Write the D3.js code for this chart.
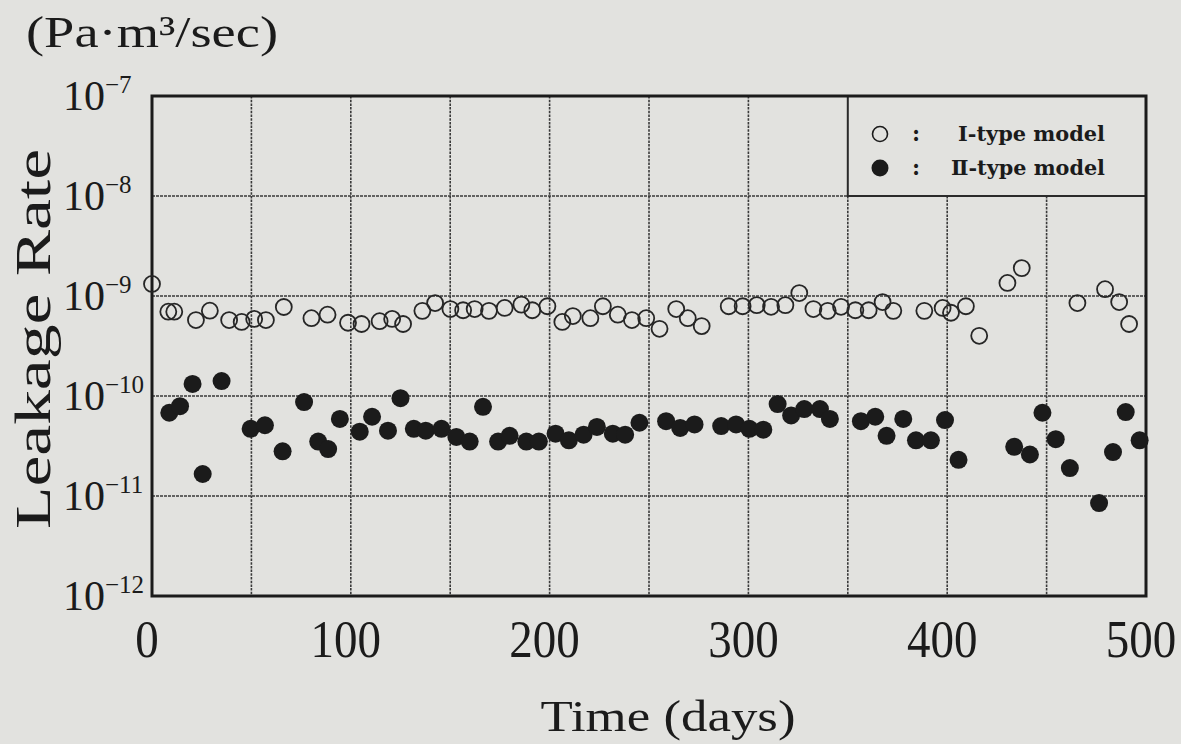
<!DOCTYPE html>
<html><head><meta charset="utf-8">
<script src="https://cdn.jsdelivr.net/npm/d3@7/dist/d3.min.js"></script>
<style>html,body{margin:0;padding:0;background:#e2e2df;}svg{display:block;}</style>
</head><body>
<script>
// ---- data ----
const typeIDays = [0,8.2,11.2,22.1,29.1,38.8,45.1,51.4,57.3,66.3,80.2,88.3,98.6,105.4,114.5,120.8,126.3,136,142.4,150.1,156.5,162.3,169.5,177.4,185.8,191.3,198.9,206.4,211.7,220.5,226.8,234.3,241.4,248.6,255.3,263.7,269.5,276.5,290.1,297.1,304.2,311.4,318.6,325.6,332.7,339.9,346.6,353.8,360.5,367.5,372.9,388.5,397.7,401.9,409.4,416.1,430.3,437.5,465.5,479.4,486.5,491.5];
const typeIRates = [1.32e-9,6.97e-10,6.97e-10,5.75e-10,7.13e-10,5.75e-10,5.5e-10,5.9e-10,5.75e-10,7.76e-10,6.0e-10,6.5e-10,5.4e-10,5.25e-10,5.6e-10,5.9e-10,5.25e-10,7.1e-10,8.5e-10,7.4e-10,7.2e-10,7.4e-10,7.1e-10,7.6e-10,8.2e-10,7.2e-10,7.9e-10,5.5e-10,6.3e-10,6.0e-10,7.9e-10,6.5e-10,5.75e-10,6.0e-10,4.7e-10,7.4e-10,6.0e-10,5.0e-10,7.9e-10,7.9e-10,8.1e-10,7.8e-10,8.1e-10,1.07e-9,7.4e-10,7.1e-10,7.8e-10,7.2e-10,7.2e-10,8.7e-10,7.1e-10,7.1e-10,7.6e-10,6.8e-10,7.9e-10,4.0e-10,1.35e-9,1.9e-9,8.5e-10,1.17e-9,8.7e-10,5.25e-10];
const typeIIDays = [8.7,14.1,20.4,25.5,35.0,49.6,56.8,65.7,76.5,83.6,88.6,94.5,104.5,110.7,118.7,125.0,131.7,137.7,145.6,153.1,159.8,166.5,174.1,179.9,188.3,194.6,203.0,209.7,217.1,223.8,231.8,238.0,245.2,258.6,265.7,272.9,286.3,293.8,300.5,307.5,314.7,321.5,328.1,336.0,341.0,356.6,363.8,369.5,377.9,384.3,391.8,398.9,405.7,433.7,441.6,447.9,454.6,461.7,476.4,483.4,489.8,496.8];
const typeIIRates = [6.8e-11,7.9e-11,1.32e-10,1.66e-11,1.41e-10,4.7e-11,5.1e-11,2.8e-11,8.7e-11,3.5e-11,2.95e-11,5.9e-11,4.4e-11,6.2e-11,4.5e-11,9.5e-11,4.7e-11,4.5e-11,4.7e-11,3.9e-11,3.5e-11,7.8e-11,3.5e-11,4.0e-11,3.5e-11,3.5e-11,4.2e-11,3.6e-11,4.1e-11,4.9e-11,4.2e-11,4.1e-11,5.4e-11,5.6e-11,4.8e-11,5.2e-11,5.0e-11,5.2e-11,4.7e-11,4.6e-11,8.3e-11,6.4e-11,7.4e-11,7.4e-11,5.9e-11,5.6e-11,6.2e-11,4.0e-11,5.9e-11,3.6e-11,3.6e-11,5.75e-11,2.3e-11,3.1e-11,2.6e-11,6.8e-11,3.7e-11,1.9e-11,8.5e-12,2.75e-11,6.9e-11,3.6e-11];
const xTickLabels = [0,100,200,300,400,500];
const xGridDays = [50,100,150,200,250,300,350,400,450];
const yTickExponents = [-7,-8,-9,-10,-11,-12];
const legendLabels = ["Ⅰ-type model","Ⅱ-type model"];
const unitLabel = "(Pa·m³/sec)";
const yTitle = "Leakage Rate";
const xTitle = "Time (days)";

// ---- layout ----
const W = 1181, H = 744;
const L = 152, R = 1146, T = 96, B = 596;
const ink = "#1b1b1b", bg = "#e2e2df";

const svg = d3.select("body").append("svg").attr("width", W).attr("height", H);
svg.append("rect").attr("width", W).attr("height", H).attr("fill", bg);

const x = d3.scaleLinear().domain([0, 500]).range([L, R]);
const y = d3.scaleLog().domain([1e-12, 1e-7]).range([B, T]);

// grid
const g = svg.append("g");
g.selectAll("line.vg").data(xGridDays).join("line")
  .attr("x1", d => x(d)).attr("x2", d => x(d)).attr("y1", T).attr("y2", B)
  .attr("stroke", "#3a3a3a").attr("stroke-width", 1.6).attr("stroke-dasharray", "2.5,1.2");
g.selectAll("line.hg").data(yTickExponents.slice(1, -1)).join("line")
  .attr("x1", L).attr("x2", R).attr("y1", d => y(Math.pow(10, d))).attr("y2", d => y(Math.pow(10, d)))
  .attr("stroke", "#3a3a3a").attr("stroke-width", 1.6).attr("stroke-dasharray", "3,1");

// legend box (covers top-right cells)
svg.append("rect").attr("x", x(350)).attr("y", T).attr("width", R - x(350)).attr("height", y(1e-8) - T)
  .attr("fill", bg).attr("stroke", "#2a2a2a").attr("stroke-width", 2);

// frame
svg.append("rect").attr("x", L).attr("y", T).attr("width", R - L).attr("height", B - T)
  .attr("fill", "none").attr("stroke", ink).attr("stroke-width", 3);

// points
const dI = typeIDays.map((d, i) => [d, typeIRates[i]]);
const dII = typeIIDays.map((d, i) => [d, typeIIRates[i]]);
svg.append("g").selectAll("circle").data(dII).join("circle")
  .attr("cx", d => x(d[0])).attr("cy", d => y(d[1])).attr("r", 9).attr("fill", ink);
svg.append("g").selectAll("circle").data(dI).join("circle")
  .attr("cx", d => x(d[0])).attr("cy", d => y(d[1])).attr("r", 8)
  .attr("fill", "none").attr("stroke", "#262626").attr("stroke-width", 1.8);

// legend
const lg = svg.append("g");
lg.append("circle").attr("cx", 880).attr("cy", 134).attr("r", 7.5).attr("fill", "none").attr("stroke", ink).attr("stroke-width", 1.6);
lg.append("circle").attr("cx", 880).attr("cy", 168).attr("r", 8.5).attr("fill", ink);
[134, 168].forEach((cy, i) => {
  lg.append("text").attr("x", 916).attr("y", cy + 7).attr("text-anchor", "middle")
    .attr("font-family", "DejaVu Serif").attr("font-size", 22).attr("font-weight", "bold").attr("fill", ink).text(":");
  lg.append("text").attr("x", i === 0 ? 958 : 951).attr("y", cy + 7)
    .attr("font-family", "DejaVu Serif, Noto Sans CJK JP").attr("font-size", 20).attr("font-weight", "bold")
    .attr("fill", ink).attr("textLength", i === 0 ? 147 : 154).attr("lengthAdjust", "spacingAndGlyphs")
    .text(legendLabels[i]);
});

// y tick labels
const yl = svg.append("g").attr("font-family", "Liberation Serif").attr("fill", ink);
yTickExponents.forEach(e => {
  const t = yl.append("text").attr("x", 63).attr("y", y(Math.pow(10, e)) + 14).attr("font-size", 42);
  t.append("tspan").attr("textLength", 42).attr("lengthAdjust", "spacingAndGlyphs").text("10");
  t.append("tspan").attr("font-size", 25).attr("dy", -17).text("−" + (-e));
});

// x tick labels (slightly condensed look via vertical stretch)
svg.append("g").selectAll("text").data(xTickLabels).join("text")
  .attr("transform", d => `translate(${x(d) - 5},657) scale(1,1.13)`)
  .attr("text-anchor", "middle")
  .attr("font-family", "Liberation Serif").attr("font-size", 47).attr("fill", ink)
  .text(d => d);

// axis titles
svg.append("text").attr("x", 668).attr("y", 731).attr("text-anchor", "middle")
  .attr("font-family", "Liberation Serif").attr("font-size", 44).attr("fill", ink)
  .attr("textLength", 255).attr("lengthAdjust", "spacingAndGlyphs").text(xTitle);
svg.append("text").attr("transform", "translate(50,339) rotate(-90)").attr("text-anchor", "middle")
  .attr("font-family", "Liberation Serif").attr("font-size", 50).attr("fill", ink)
  .attr("textLength", 380).attr("lengthAdjust", "spacingAndGlyphs").text(yTitle);
svg.append("text").attr("x", 26).attr("y", 47)
  .attr("font-family", "Liberation Serif").attr("font-size", 44).attr("fill", ink)
  .attr("textLength", 252).attr("lengthAdjust", "spacingAndGlyphs").text(unitLabel);
</script>
</body></html>
